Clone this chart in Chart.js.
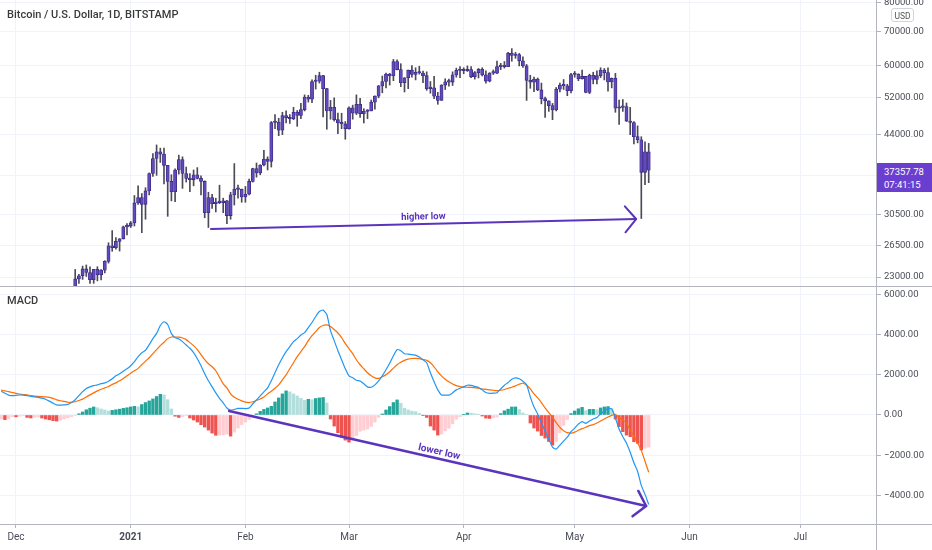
<!DOCTYPE html>
<html>
<head>
<meta charset="utf-8">
<title>Bitcoin / U.S. Dollar, 1D, BITSTAMP</title>
<script src="https://cdn.jsdelivr.net/npm/chart.js@4.4.1/dist/chart.umd.min.js"></script>
<style>
    body { margin: 0; background: #fff; font-family: Roboto, 'Liberation Sans', sans-serif; }
    #wrap { position: relative; width: 932px; height: 550px; overflow: hidden; background: #fff; }
    canvas { position: absolute; left: 0; }
    #priceCanvas { top: 0; }
    #macdCanvas { top: 287px; }
    .hline { position: absolute; left: 0; width: 932px; height: 1px; background: #b2b5be; }
    .vline { position: absolute; top: 0; left: 876px; width: 1px; height: 550px; background: #b2b5be; }
    .pane-title { position: absolute; left: 7px; font-size: 11px; font-weight: 500; color: #3a3a3a; }
    #lastPrice {
        position: absolute; left: 877px; top: 163px; width: 55px; height: 29px;
        background: #6a3fd0; color: #fff; font-size: 9.5px; line-height: 13px;
        padding: 2px 0 0 7px; box-sizing: border-box;
    }
    #usd {
        position: absolute; left: 891px; top: 8px; width: 23px; height: 14px;
        border: 1px solid #d1d4dc; border-radius: 3px; background: #fff;
        font-size: 8.5px; line-height: 14px; text-align: center; color: #555;
        box-sizing: border-box;
    }
</style>
</head>
<body>
<div id="wrap">
    <canvas id="priceCanvas" width="932" height="286"></canvas>
    <canvas id="macdCanvas" width="932" height="263"></canvas>
    <div class="hline" style="top:286px"></div>
    <div class="hline" style="top:524px"></div>
    <div class="vline"></div>
    <div class="pane-title" style="top:8px">Bitcoin / U.S. Dollar, 1D, BITSTAMP</div>
    <div class="pane-title" style="top:294px">MACD</div>
    <div id="usd">USD</div>
    <div id="lastPrice">37357.78<br>07:41:15</div>
</div>
<script>
// ===== DATA =====
// day index: 0 = Dec 1, 2020
const candleStartDay = 15; // Dec 16, 2020 … May 21, 2021

const opens = [
    19430,21340,22800,23130,23860,23480,22720,23810,23230,23730,24690,26490,26280,27040,27360,28880,
    28990,29400,32200,33000,32000,34000,36800,39400,40600,40200,38200,35500,33900,37400,39200,36800,
    36000,35800,36600,36000,35500,30800,33000,32100,32300,32250,32500,30400,33400,34300,34250,
    33100,33500,35500,37650,36900,38250,39300,38900,46400,46500,44800,47900,47400,47200,48600,47900,
    49200,52100,51600,55900,55950,57400,54100,48900,49700,47000,46300,46100,
    45100,49600,48400,50400,48300,48800,48900,50900,52300,54800,55900,57800,57300,61200,59000,55600,
    56850,58850,57700,58300,58100,57400,54100,54300,52300,51300,55000,55800,55750,57600,58800,
    58750,58700,59000,57100,58200,59100,57600,56000,58100,58050,59800,59900,59800,63600,62900,63200,
    61400,60000,56200,55700,56500,53800,51700,51200,50100,49100,54000,55000,54800,53600,
    57700,57800,56600,57200,53200,57500,56400,57400,58900,58200,55800,56700,49500,49700,49900,46700,
    46400,43500,42900,37000,40600
];
const highs = [
    21560,23800,23280,24170,24295,24100,23820,24100,23780,24770,26870,28400,27500,27390,28990,29300,
    29600,33300,34800,33600,34500,36900,40300,41900,41300,41300,38200,36600,37600,40000,39700,37900,
    36800,37400,37800,36400,35600,33800,33500,32900,34900,32900,32600,33800,38500,34900,34300,
    34700,35900,37700,38600,38300,40900,39700,46600,48100,47300,48600,48900,48100,49700,49000,50600,
    52600,52500,56300,57500,58300,57500,54200,51300,51900,48400,48400,46600,
    49800,50200,52600,51800,49400,49200,51400,52400,54900,57300,58100,58000,61800,61700,60600,56900,
    58900,60100,59500,59900,58600,58400,55900,57200,53200,55100,56600,56500,58400,59400,59800,
    59500,60000,59800,58500,59300,59500,58700,58200,58900,61300,60700,61200,63800,64900,63800,63500,
    62500,60400,57500,57000,56800,55500,52100,51200,50600,54400,55500,56400,55200,58000,
    58500,57900,58900,57200,57800,58300,58700,59500,59300,59500,56800,58000,51400,51500,50700,49700,
    46600,45700,43500,42500,42200
];
const lows = [
    19290,21230,22350,22750,23060,22350,22350,22600,22700,23430,24500,25850,26100,25880,27320,27850,
    28800,29000,32000,28130,29900,33400,36300,36500,38700,35100,30300,32500,32400,36700,34400,35400,
    33900,34800,35900,33400,30100,28800,31400,30900,32100,30800,29300,29900,31900,32900,32300,
    32300,33400,35400,36200,36600,38100,37400,37900,45100,43700,43900,46300,46200,47000,45600,47200,
    48900,50900,50800,54000,55500,47600,45000,47100,46700,44100,45100,43000,
    45000,47100,48100,47500,46300,47200,48900,49300,51900,53100,54300,55000,56100,58900,54600,53300,
    54100,57000,56300,57800,55600,53700,53000,51700,50400,51300,53900,54700,54900,57000,56900,
    57900,58500,56900,56500,56800,57300,55500,55800,57700,57900,59000,59400,59800,61300,62100,60000,
    59600,51300,54200,53400,53600,50500,47500,48800,47000,48900,53300,53900,52400,53100,
    57000,56100,56500,53100,52900,55300,55300,56900,56300,53500,54300,48600,46000,48800,46600,43900,
    42100,42300,30000,35000,35300
];
const closes = [
    21340,22800,23130,23860,23480,22720,23810,23230,23730,24690,26490,26280,27040,27360,28880,28990,
    29400,32200,33000,32000,34000,36800,39400,40600,40200,38200,35500,33900,37400,39200,36800,36000,
    35800,36600,36000,35500,30800,33000,32100,32300,32250,32500,30400,33400,34300,34250,33100,
    33500,35500,37650,36900,38250,39300,38900,46400,46500,44800,47900,47400,47200,48600,47900,49200,
    52100,51600,55900,55950,57400,54100,48900,49700,47000,46300,46100,45100,
    49600,48400,50400,48300,48800,48900,50900,52300,54800,55900,57800,57300,61200,59000,55600,56850,
    58850,57700,58300,58100,57400,54100,54300,52300,51300,55000,55800,55750,57600,58800,58750,
    58700,59000,57100,58200,59100,57600,56000,58100,58050,59800,59900,59800,63600,62900,63200,61400,
    60000,56200,55700,56500,53800,51700,51200,50100,49100,54000,55000,54800,53600,57700,
    57800,56600,57200,53200,57500,56400,57400,58900,58200,55800,56700,49500,49700,49900,46700,46400,
    43500,42900,37000,40600,37357.78
];

// MACD pane, one value per day starting at day -4 (Nov 27, 2020)
const macdStartDay = -4;
const macdLine = [
    1180,1080,990,960,975,
    995,985,960,925,905,880,840,780,690,590,
    500,490,505,525,620,760,960,1160,1320,1400,
    1460,1500,1560,1600,1680,1800,1950,2050,2180,2300,
    2450,2650,2900,3100,3220,3500,3800,4060,4450,4640,
    4500,4050,3850,3780,3650,3480,3320,3100,2800,2450,
    2050,1700,1400,1100,830,600,350,250,280,330,
    330,320,350,560,750,950,1150,1350,1700,2100,
    2500,2850,3150,3400,3650,3800,3980,4100,4350,4600,
    4900,5150,5220,5000,4200,3700,3200,2750,2300,1950,
    1850,1730,1690,1550,1400,1380,1500,1700,1950,2250,
    2570,2950,3250,3200,3050,3030,3000,2980,2880,2750,
    2600,2100,1650,1250,1000,990,990,1100,1250,1330,
    1400,1480,1470,1420,1370,1250,1120,1080,1090,1110,
    1300,1480,1620,1780,1850,1800,1680,1500,900,400,
    50,-400,-800,-1200,-1600,-1700,-1500,-1300,-1100,-830,
    -650,-450,-330,-420,-300,-200,-120,50,200,320,
    300,-150,-700,-1080,-1400,-1850,-2380,-2810,-3500,-3950,-4450
];
const signalLine = [
    1240,1200,1160,1120,1080,
    1045,1020,1000,965,940,925,910,900,880,830,
    750,710,675,635,632,660,720,790,900,1000,
    1100,1200,1280,1350,1420,1520,1600,1700,1820,1950,
    2080,2200,2320,2500,2680,2850,3050,3250,3450,3620,
    3800,3880,3880,3870,3830,3750,3600,3450,3250,3000,
    2750,2550,2400,2200,1880,1550,1350,1050,880,780,
    700,640,620,660,720,800,900,1050,1180,1330,
    1500,1750,2000,2300,2600,2900,3150,3400,3700,3950,
    4150,4350,4450,4480,4400,4250,4080,3850,3550,3300,
    3050,2750,2500,2300,2100,1950,1850,1820,1900,2000,
    2150,2330,2500,2620,2720,2780,2810,2820,2800,2760,
    2720,2600,2400,2150,1950,1780,1650,1540,1460,1410,
    1390,1380,1375,1360,1330,1300,1275,1250,1230,1215,
    1230,1270,1330,1380,1450,1530,1580,1480,1300,1050,
    850,620,350,120,-100,-380,-620,-780,-880,-900,
    -850,-760,-680,-610,-530,-480,-400,-300,-200,-100,
    -20,30,-120,-250,-400,-770,-1050,-1400,-1760,-2300,-2850
];
const macdHist = [
    -200,-230,-200,-80,-90,
    -60,-40,-120,-150,-120,-100,-150,-200,-240,-280,
    -300,-260,-200,-140,-80,-20,60,150,260,340,
    400,360,300,250,200,230,260,290,330,360,
    400,430,410,520,620,700,800,920,1030,1000,
    760,300,-60,-120,-80,-30,-150,-250,-350,-480,
    -600,-750,-900,-1010,-1000,-980,-950,-1050,-850,-650,
    -480,-350,-220,-100,60,180,280,350,430,650,
    850,1050,1200,1150,1050,950,830,730,780,760,
    820,850,870,600,-200,-550,-880,-1100,-1250,-1350,
    -1200,-1020,-810,-750,-700,-570,-350,-120,50,250,
    420,620,750,580,330,250,190,160,80,-10,
    -120,-550,-750,-1000,-950,-790,-660,-440,-210,-80,
    10,100,95,60,40,-50,-155,-170,-140,-105,
    70,210,290,400,400,270,100,20,-400,-650,
    -800,-1020,-1150,-1320,-1500,-1320,-880,-520,-220,70,
    200,310,380,210,280,280,260,350,400,420,
    320,-200,-580,-830,-1000,-1080,-1330,-1410,-1740,-1650,-1600
];

// axes
const monthDays = [0, 31, 62, 90, 121, 151, 182, 212];
const monthLabels = ['Dec', '2021', 'Feb', 'Mar', 'Apr', 'May', 'Jun', 'Jul'];
const priceTicks = [23000, 26500, 30500, 36500, 44000, 52000, 60000, 70000, 80000];
const hiddenPriceTicks = [36500]; // covered by the last-price tag
const macdTicks = [-4000, -2000, 0, 2000, 4000, 6000];

// drawn trend lines [day, value]
const higherLow = [[52.7, 28600], [167.6, 29930]];
const lowerLow = [[57.6, 200], [170.3, -4530]];

// ===== CHART.JS CONFIGURATION =====
Chart.defaults.font.family = 'Roboto, sans-serif';
Chart.defaults.font.size = 9.5;
Chart.defaults.color = '#4a4d57';

const X_MIN = -4.324, X_MAX = 232.43;
const GRID = '#f0f3fa';
const TICK_MARK = '#b2b5be';
const ARROW = '#5b34bd';
const AXIS_W = 56;

const noPad = s => { s.paddingTop = 0; s.paddingBottom = 0; s.paddingLeft = 0; s.paddingRight = 0; };

// Trend arrow with chevron head and a label along the line
function trendArrow(id, from, to, label, font, lift, width) {
    return {
        id: id,
        afterDatasetsDraw(chart) {
            const { ctx, scales } = chart;
            const x1 = scales.x.getPixelForValue(from[0]), y1 = scales.y.getPixelForValue(from[1]);
            const x2 = scales.x.getPixelForValue(to[0]), y2 = scales.y.getPixelForValue(to[1]);
            const ang = Math.atan2(y2 - y1, x2 - x1);
            const head = 17, spread = 0.87;
            ctx.save();
            ctx.strokeStyle = ARROW;
            ctx.lineWidth = width;
            ctx.lineCap = 'round';
            ctx.lineJoin = 'round';
            ctx.beginPath();
            ctx.moveTo(x1, y1);
            ctx.lineTo(x2, y2);
            ctx.stroke();
            ctx.beginPath();
            ctx.moveTo(x2 + head * Math.cos(ang + Math.PI - spread), y2 + head * Math.sin(ang + Math.PI - spread));
            ctx.lineTo(x2, y2);
            ctx.lineTo(x2 + head * Math.cos(ang - Math.PI + spread), y2 + head * Math.sin(ang - Math.PI + spread));
            ctx.stroke();
            ctx.translate((x1 + x2) / 2 + lift * Math.sin(ang), (y1 + y2) / 2 - lift * Math.cos(ang));
            ctx.rotate(ang);
            ctx.fillStyle = ARROW;
            ctx.font = font;
            ctx.textAlign = 'center';
            ctx.textBaseline = 'middle';
            ctx.fillText(label, 0, 0);
            ctx.restore();
        }
    };
}

// Price pane: candles as floating bars (wick + body)
function createPriceChart() {
    const wicks = lows.map((l, i) => ({ x: candleStartDay + i, y: [l, highs[i]] }));
    const bodies = opens.map((o, i) => ({ x: candleStartDay + i, y: [o, closes[i]] }));

    new Chart(document.getElementById('priceCanvas'), {
        type: 'bar',
        data: {
            datasets: [
                {
                    data: wicks,
                    backgroundColor: '#4b4b58',
                    barThickness: 1,
                    grouped: false,
                    order: 2
                },
                {
                    data: bodies,
                    backgroundColor: '#6349bb',
                    borderColor: '#3a2a85',
                    borderWidth: 0.8,
                    borderSkipped: false,
                    barThickness: 3.2,
                    minBarLength: 1.5,
                    grouped: false,
                    order: 1
                }
            ]
        },
        options: {
            responsive: false,
            animation: false,
            events: [],
            layout: { padding: 0 },
            plugins: { legend: { display: false }, tooltip: { enabled: false } },
            scales: {
                x: {
                    type: 'linear',
                    min: X_MIN,
                    max: X_MAX,
                    offset: false,
                    grid: { color: GRID, drawTicks: false, offset: false },
                    border: { display: false },
                    ticks: { display: false },
                    afterBuildTicks: s => { s.ticks = monthDays.map(v => ({ value: v })); },
                    afterFit: s => { s.height = 0; noPad(s); }
                },
                y: {
                    type: 'logarithmic',
                    position: 'right',
                    min: 22079,
                    max: 80938,
                    grid: { color: GRID, tickColor: TICK_MARK, tickLength: 5 },
                    border: { display: false },
                    ticks: {
                        padding: 3,
                        autoSkip: false,
                        callback: v => hiddenPriceTicks.includes(v) ? '' : v.toFixed(2)
                    },
                    afterBuildTicks: s => { s.ticks = priceTicks.map(v => ({ value: v })); },
                    afterFit: s => { s.width = AXIS_W; noPad(s); }
                }
            }
        },
        plugins: [trendArrow('higherLow', higherLow[0], higherLow[1], 'higher low', 'bold 9.5px Roboto, sans-serif', 7, 2)]
    });
}

// MACD pane: histogram + MACD and signal lines
function createMacdChart() {
    const colors = macdHist.map((h, i) => {
        const prev = i > 0 ? macdHist[i - 1] : h;
        if (h >= 0) return h >= prev ? '#26a69a' : '#b2dfdb';
        return h < prev ? '#ef5350' : '#ffcdd2';
    });

    new Chart(document.getElementById('macdCanvas'), {
        type: 'bar',
        data: {
            datasets: [
                {
                    type: 'line',
                    data: macdLine.map((v, i) => ({ x: macdStartDay + i, y: v })),
                    borderColor: '#2196f3',
                    borderWidth: 1.2,
                    pointRadius: 0,
                    tension: 0.2,
                    order: 0
                },
                {
                    type: 'line',
                    data: signalLine.map((v, i) => ({ x: macdStartDay + i, y: v })),
                    borderColor: '#ff6d00',
                    borderWidth: 1.2,
                    pointRadius: 0,
                    tension: 0.2,
                    order: 1
                },
                {
                    data: macdHist.map((v, i) => ({ x: macdStartDay + i, y: v })),
                    backgroundColor: colors,
                    barThickness: 2.7,
                    grouped: false,
                    order: 2
                }
            ]
        },
        options: {
            responsive: false,
            animation: false,
            events: [],
            layout: { padding: 0 },
            plugins: { legend: { display: false }, tooltip: { enabled: false } },
            scales: {
                x: {
                    type: 'linear',
                    min: X_MIN,
                    max: X_MAX,
                    offset: false,
                    grid: { color: GRID, tickColor: TICK_MARK, tickLength: 4, offset: false },
                    border: { display: false },
                    ticks: {
                        padding: 3,
                        autoSkip: false,
                        maxRotation: 0,
                        color: '#4a4d57',
                        font: c => ({ size: 10, weight: (c.tick && c.tick.value === 31) ? 'bold' : 'normal' }),
                        callback: v => monthLabels[monthDays.indexOf(v)]
                    },
                    afterBuildTicks: s => { s.ticks = monthDays.map(v => ({ value: v })); },
                    afterFit: s => { s.height = 26; noPad(s); }
                },
                y: {
                    type: 'linear',
                    position: 'right',
                    min: -5423,
                    max: 6368,
                    grid: { color: GRID, tickColor: TICK_MARK, tickLength: 5 },
                    border: { display: false },
                    ticks: {
                        padding: 3,
                        autoSkip: false,
                        callback: v => (v < 0 ? '\u2212' : '') + Math.abs(v).toFixed(2)
                    },
                    afterBuildTicks: s => { s.ticks = macdTicks.map(v => ({ value: v })); },
                    afterFit: s => { s.width = AXIS_W; noPad(s); }
                }
            }
        },
        plugins: [trendArrow('lowerLow', lowerLow[0], lowerLow[1], 'lower low', 'bold 10px Roboto, sans-serif', 6.5, 2.5)]
    });
}

createPriceChart();
createMacdChart();
</script>
</body>
</html>
